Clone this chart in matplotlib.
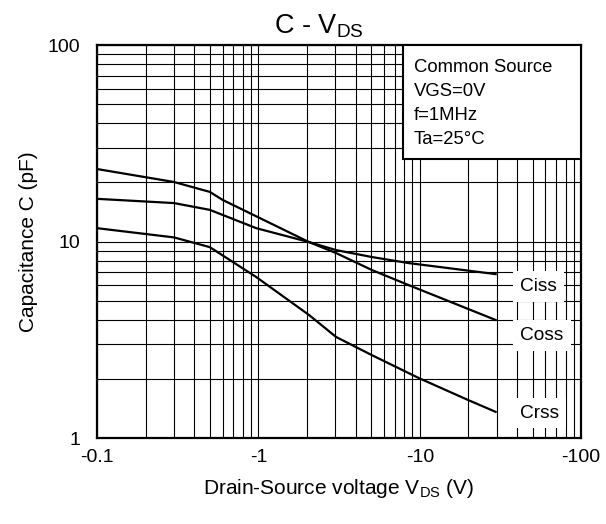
import matplotlib.pyplot as plt
from matplotlib.patches import Rectangle
from matplotlib.ticker import FixedLocator, FuncFormatter, LogLocator, NullFormatter

plt.rcParams["font.family"] = ["Liberation Sans", "DejaVu Sans"]
plt.rcParams["mathtext.fontset"] = "custom"
plt.rcParams["mathtext.rm"] = "Liberation Sans"

# drain-source voltage (V) and capacitance (pF)
ciss_v = [-0.1, -0.3, -0.5, -0.97, -2.06, -3.03, -5.06, -8.55, -29.5]
ciss = [16.5, 15.7, 14.5, 11.7, 9.94, 9.05, 8.34, 7.77, 6.83]

coss_v = [-0.1, -0.3, -0.5, -0.6, -2.06, -3.03, -5.06, -8.55, -29.5]
coss = [23.4, 20.1, 17.9, 16.3, 9.94, 8.74, 7.16, 6.0, 3.99]

crss_v = [-0.1, -0.3, -0.5, -0.97, -2.06, -3.03, -5.06, -9.87, -20.0, -29.5]
crss = [11.7, 10.5, 9.37, 6.6, 4.23, 3.27, 2.64, 2.02, 1.56, 1.36]

x_ticks = [-0.1, -1, -10, -100]
y_ticks = [1, 10, 100]

curve_labels = ["Ciss", "Coss", "Crss"]
label_y = [5.9, 3.34, 1.34]

info_lines = ["Common Source", "VGS=0V", "f=1MHz", "Ta=25\u00b0C"]


def main():
    fig = plt.figure(figsize=(6.06, 5.24), dpi=100)
    ax = fig.add_axes([0.160, 0.164, 0.799, 0.750])

    ax.set_xscale("log")
    ax.set_yscale("log")
    ax.set_xlim(0.1, 100)
    ax.set_ylim(1, 100)

    for xs, ys in [(ciss_v, ciss), (coss_v, coss), (crss_v, crss)]:
        ax.plot([-v for v in xs], ys, color="black", linewidth=1.6, zorder=3)

    ax.xaxis.set_major_locator(FixedLocator([-v for v in x_ticks]))
    ax.xaxis.set_major_formatter(FuncFormatter(lambda v, p: f"{-v:g}"))
    ax.xaxis.set_minor_locator(LogLocator(base=10, subs=range(2, 10)))
    ax.xaxis.set_minor_formatter(NullFormatter())
    ax.yaxis.set_major_locator(FixedLocator(y_ticks))
    ax.yaxis.set_major_formatter(FuncFormatter(lambda v, p: f"{v:g}"))
    ax.yaxis.set_minor_locator(LogLocator(base=10, subs=range(2, 10)))
    ax.yaxis.set_minor_formatter(NullFormatter())

    ax.grid(True, which="both", color="black", linewidth=0.8)
    ax.tick_params(which="both", length=0, labelsize=14)
    ax.tick_params(axis="x", pad=8)
    ax.tick_params(axis="y", pad=12)

    for spine in ax.spines.values():
        spine.set_linewidth(1.6)
        spine.set_zorder(5)

    for name, yv in zip(curve_labels, label_y):
        ax.text(
            42,
            yv,
            name,
            fontsize=13.8,
            ha="left",
            va="center",
            zorder=4,
            bbox=dict(facecolor="white", edgecolor="none", pad=5),
        )

    # info box in the upper right corner
    ax.add_patch(
        Rectangle(
            (0.632, 0.710),
            0.368,
            0.290,
            transform=ax.transAxes,
            facecolor="white",
            edgecolor="black",
            linewidth=1.5,
            zorder=6,
        )
    )
    for i, line in enumerate(info_lines):
        ax.text(
            0.655,
            0.942 - i * 0.0605,
            line,
            transform=ax.transAxes,
            fontsize=13.3,
            ha="left",
            va="center",
            zorder=7,
        )

    ax.set_title("C - V$_{\\mathrm{DS}}$", fontsize=19.5, x=0.459, pad=8)
    ax.set_xlabel("Drain-Source voltage V$_{\\mathrm{DS}}$ (V)", fontsize=15, labelpad=8)
    ax.set_ylabel("Capacitance C (pF)", fontsize=15, labelpad=7)

    fig.savefig("out.png", dpi=100)
    plt.close(fig)


if __name__ == "__main__":
    main()
